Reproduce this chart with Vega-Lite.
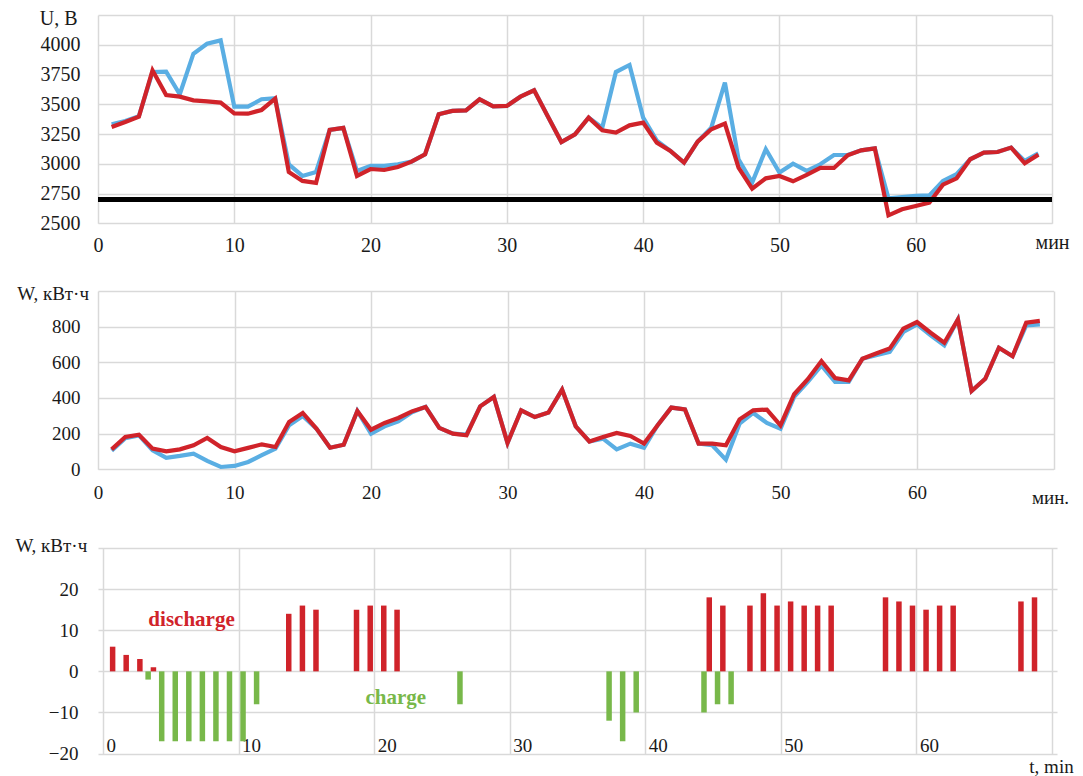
{
  "$schema": "https://vega.github.io/schema/vega-lite/v6.json",
  "background": "white",
  "padding": {"left": 14, "top": 5, "right": 5, "bottom": 25},
  "bounds": "flush",
  "spacing": 0,
  "datasets": {
    "lines": [
      {"t":1,"Ub":3332,"Ur":3309,"Wb":105,"Wr":112},
      {"t":2,"Ub":3360,"Ur":3351,"Wb":175,"Wr":181},
      {"t":3,"Ub":3400,"Ur":3396,"Wb":190,"Wr":194},
      {"t":4,"Ub":3771,"Ur":3785,"Wb":107,"Wr":116},
      {"t":5,"Ub":3774,"Ur":3578,"Wb":64,"Wr":101},
      {"t":6,"Ub":3584,"Ur":3564,"Wb":75,"Wr":112},
      {"t":7,"Ub":3925,"Ur":3533,"Wb":88,"Wr":135},
      {"t":8,"Ub":4009,"Ur":3525,"Wb":47,"Wr":176},
      {"t":9,"Ub":4037,"Ur":3514,"Wb":13,"Wr":125},
      {"t":10,"Ub":3480,"Ur":3424,"Wb":19,"Wr":101},
      {"t":11,"Ub":3480,"Ur":3421,"Wb":41,"Wr":120},
      {"t":12,"Ub":3542,"Ur":3452,"Wb":79,"Wr":140},
      {"t":13,"Ub":3550,"Ur":3547,"Wb":116,"Wr":125},
      {"t":14,"Ub":2996,"Ur":2931,"Wb":247,"Wr":265},
      {"t":15,"Ub":2898,"Ur":2856,"Wb":299,"Wr":316},
      {"t":16,"Ub":2931,"Ur":2839,"Wb":228,"Wr":228},
      {"t":17,"Ub":3284,"Ur":3284,"Wb":121,"Wr":121},
      {"t":18,"Ub":3301,"Ur":3301,"Wb":138,"Wr":138},
      {"t":19,"Ub":2940,"Ur":2898,"Wb":327,"Wr":327},
      {"t":20,"Ub":2982,"Ur":2956,"Wb":200,"Wr":222},
      {"t":21,"Ub":2982,"Ur":2948,"Wb":241,"Wr":260},
      {"t":22,"Ub":2996,"Ur":2973,"Wb":269,"Wr":288},
      {"t":23,"Ub":3018,"Ur":3018,"Wb":320,"Wr":325},
      {"t":24,"Ub":3080,"Ur":3080,"Wb":350,"Wr":350},
      {"t":25,"Ub":3416,"Ur":3416,"Wb":232,"Wr":232},
      {"t":26,"Ub":3444,"Ur":3444,"Wb":200,"Wr":200},
      {"t":27,"Ub":3449,"Ur":3449,"Wb":195,"Wr":191},
      {"t":28,"Ub":3542,"Ur":3542,"Wb":353,"Wr":353},
      {"t":29,"Ub":3483,"Ur":3483,"Wb":406,"Wr":406},
      {"t":30,"Ub":3486,"Ur":3486,"Wb":148,"Wr":148},
      {"t":31,"Ub":3564,"Ur":3564,"Wb":331,"Wr":331},
      {"t":32,"Ub":3617,"Ur":3617,"Wb":293,"Wr":293},
      {"t":33,"Ub":3400,"Ur":3400,"Wb":318,"Wr":318},
      {"t":34,"Ub":3183,"Ur":3183,"Wb":447,"Wr":447},
      {"t":35,"Ub":3248,"Ur":3248,"Wb":241,"Wr":241},
      {"t":36,"Ub":3388,"Ur":3388,"Wb":156,"Wr":156},
      {"t":37,"Ub":3304,"Ur":3281,"Wb":172,"Wr":181},
      {"t":38,"Ub":3771,"Ur":3262,"Wb":112,"Wr":204},
      {"t":39,"Ub":3830,"Ur":3323,"Wb":144,"Wr":187},
      {"t":40,"Ub":3388,"Ur":3346,"Wb":121,"Wr":144},
      {"t":41,"Ub":3195,"Ur":3178,"Wb":247,"Wr":247},
      {"t":42,"Ub":3108,"Ur":3108,"Wb":346,"Wr":346},
      {"t":43,"Ub":3010,"Ur":3010,"Wb":336,"Wr":336},
      {"t":44,"Ub":3186,"Ur":3186,"Wb":144,"Wr":144},
      {"t":45,"Ub":3304,"Ur":3290,"Wb":135,"Wr":144},
      {"t":46,"Ub":3682,"Ur":3337,"Wb":54,"Wr":135},
      {"t":47,"Ub":3038,"Ur":2968,"Wb":256,"Wr":280},
      {"t":48,"Ub":2842,"Ur":2791,"Wb":316,"Wr":331},
      {"t":49,"Ub":3122,"Ur":2878,"Wb":260,"Wr":335},
      {"t":50,"Ub":2926,"Ur":2898,"Wb":228,"Wr":247},
      {"t":51,"Ub":3001,"Ur":2853,"Wb":406,"Wr":421},
      {"t":52,"Ub":2940,"Ur":2906,"Wb":490,"Wr":505},
      {"t":53,"Ub":2996,"Ur":2965,"Wb":583,"Wr":607},
      {"t":54,"Ub":3074,"Ur":2965,"Wb":490,"Wr":512},
      {"t":55,"Ub":3074,"Ur":3071,"Wb":490,"Wr":499},
      {"t":56,"Ub":3113,"Ur":3113,"Wb":620,"Wr":620},
      {"t":57,"Ub":3130,"Ur":3130,"Wb":640,"Wr":649},
      {"t":58,"Ub":2710,"Ur":2567,"Wb":658,"Wr":677},
      {"t":59,"Ub":2721,"Ur":2618,"Wb":770,"Wr":789},
      {"t":60,"Ub":2730,"Ur":2646,"Wb":813,"Wr":826},
      {"t":61,"Ub":2735,"Ur":2674,"Wb":751,"Wr":766},
      {"t":62,"Ub":2856,"Ur":2825,"Wb":695,"Wr":710},
      {"t":63,"Ub":2912,"Ur":2878,"Wb":841,"Wr":841},
      {"t":64,"Ub":3038,"Ur":3038,"Wb":439,"Wr":439},
      {"t":65,"Ub":3094,"Ur":3094,"Wb":508,"Wr":508},
      {"t":66,"Ub":3099,"Ur":3099,"Wb":682,"Wr":682},
      {"t":67,"Ub":3136,"Ur":3136,"Wb":634,"Wr":634},
      {"t":68,"Ub":3024,"Ur":3004,"Wb":807,"Wr":822},
      {"t":69,"Ub":3088,"Ur":3077,"Wb":813,"Wr":832}
    ],
    "bars": [
      {"t":0.71,"W":6,"mode":"discharge"},
      {"t":1.71,"W":4,"mode":"discharge"},
      {"t":2.72,"W":3,"mode":"discharge"},
      {"t":3.72,"W":1,"mode":"discharge"},
      {"t":3.33,"W":-2,"mode":"charge"},
      {"t":4.33,"W":-17,"mode":"charge"},
      {"t":5.33,"W":-17,"mode":"charge"},
      {"t":6.33,"W":-17,"mode":"charge"},
      {"t":7.33,"W":-17,"mode":"charge"},
      {"t":8.33,"W":-17,"mode":"charge"},
      {"t":9.33,"W":-17,"mode":"charge"},
      {"t":10.33,"W":-17,"mode":"charge"},
      {"t":11.33,"W":-8,"mode":"charge"},
      {"t":13.7,"W":14,"mode":"discharge"},
      {"t":14.71,"W":16,"mode":"discharge"},
      {"t":15.71,"W":15,"mode":"discharge"},
      {"t":18.7,"W":15,"mode":"discharge"},
      {"t":19.71,"W":16,"mode":"discharge"},
      {"t":20.71,"W":16,"mode":"discharge"},
      {"t":21.69,"W":15,"mode":"discharge"},
      {"t":26.33,"W":-8,"mode":"charge"},
      {"t":37.33,"W":-12,"mode":"charge"},
      {"t":38.33,"W":-17,"mode":"charge"},
      {"t":39.33,"W":-10,"mode":"charge"},
      {"t":44.33,"W":-10,"mode":"charge"},
      {"t":45.33,"W":-8,"mode":"charge"},
      {"t":46.33,"W":-8,"mode":"charge"},
      {"t":44.72,"W":18,"mode":"discharge"},
      {"t":45.72,"W":16,"mode":"discharge"},
      {"t":47.72,"W":16,"mode":"discharge"},
      {"t":48.71,"W":19,"mode":"discharge"},
      {"t":49.72,"W":16,"mode":"discharge"},
      {"t":50.72,"W":17,"mode":"discharge"},
      {"t":51.72,"W":16,"mode":"discharge"},
      {"t":52.71,"W":16,"mode":"discharge"},
      {"t":53.71,"W":16,"mode":"discharge"},
      {"t":57.72,"W":18,"mode":"discharge"},
      {"t":58.71,"W":17,"mode":"discharge"},
      {"t":59.71,"W":16,"mode":"discharge"},
      {"t":60.71,"W":15,"mode":"discharge"},
      {"t":61.71,"W":16,"mode":"discharge"},
      {"t":62.71,"W":16,"mode":"discharge"},
      {"t":67.71,"W":17,"mode":"discharge"},
      {"t":68.71,"W":18,"mode":"discharge"}
    ],
    "notes": [
      {"t":6.53,"W":12.6,"mode":"discharge","label":"discharge"},
      {"t":21.6,"W":-6.6,"mode":"charge","label":"charge"}
    ]
  },
  "vconcat": [
    {
      "width": 954,
      "height": 208.3,
      "data": {"name": "lines"},
      "encoding": {
        "x": {"field": "t", "type": "quantitative",
          "scale": {"domain": [0, 70], "nice": false},
          "axis": {"values": [0,10,20,30,40,50,60,70], "labelExpr": "datum.value == 70 ? '' : datum.label",
            "labelFontSize": 20, "labelPadding": 12, "labelOverlap": false, "title": "мин", "titleFontSize": 20,
            "titleX": 954, "titleY": 19, "titleAlign": "center", "titleBaseline": "middle"}}
      },
      "layer": [
        {
          "mark": {"type": "line", "color": "#5aaee3", "strokeWidth": 4.2},
          "encoding": {
            "y": {"field": "Ub", "type": "quantitative",
              "scale": {"domain": [2500, 4250], "nice": false, "zero": false},
              "axis": {"values": [2500,2750,3000,3250,3500,3750,4000,4250], "format": "d",
                "labelExpr": "datum.value == 4250 ? '' : datum.label", "labelOverlap": false,
                "labelFontSize": 20, "labelPadding": 18, "title": "U, В", "titleFontSize": 20,
                "titleAngle": 0, "titleAlign": "right", "titleBaseline": "middle", "titleX": -21, "titleY": 3}}
          }
        },
        {
          "mark": {"type": "line", "color": "#d0232a", "strokeWidth": 4.2},
          "encoding": {"y": {"field": "Ur", "type": "quantitative",
              "scale": {"domain": [2500, 4250], "nice": false, "zero": false},
              "axis": {"values": [2500,2750,3000,3250,3500,3750,4000,4250], "format": "d",
                "labelExpr": "datum.value == 4250 ? '' : datum.label", "labelOverlap": false,
                "labelFontSize": 20, "labelPadding": 18, "title": "U, В", "titleFontSize": 20,
                "titleAngle": 0, "titleAlign": "right", "titleBaseline": "middle", "titleX": -21, "titleY": 3}}}
        },
        {
          "mark": {"type": "rule", "color": "black", "strokeWidth": 4.5},
          "encoding": {"x": null, "y": {"datum": 2700,
              "axis": {"values": [2500,2750,3000,3250,3500,3750,4000,4250], "format": "d",
                "labelExpr": "datum.value == 4250 ? '' : datum.label", "labelOverlap": false,
                "labelFontSize": 20, "labelPadding": 18, "title": "U, В", "titleFontSize": 20,
                "titleAngle": 0, "titleAlign": "right", "titleBaseline": "middle", "titleX": -21, "titleY": 3}}}
        }
      ]
    },
    {
      "width": 954,
      "height": 66.7,
      "data": {"values": []},
      "mark": {"type": "point", "opacity": 0},
      "encoding": {}
    },
    {
      "width": 955.5,
      "height": 178.3,
      "data": {"name": "lines"},
      "encoding": {
        "x": {"field": "t", "type": "quantitative",
          "scale": {"domain": [0, 70], "nice": false},
          "axis": {"values": [0,10,20,30,40,50,60,70], "labelExpr": "datum.value == 70 ? '' : datum.label",
            "labelFontSize": 19, "labelPadding": 14, "labelOverlap": false, "title": "мин.", "titleFontSize": 19,
            "titleX": 952, "titleY": 28, "titleAlign": "center", "titleBaseline": "middle"}}
      },
      "layer": [
        {
          "mark": {"type": "line", "color": "#5aaee3", "strokeWidth": 4.2},
          "encoding": {
            "y": {"field": "Wb", "type": "quantitative",
              "scale": {"domain": [0, 1000], "nice": false},
              "axis": {"values": [0,200,400,600,800,1000], "format": "d",
                "labelExpr": "datum.value == 1000 ? '' : datum.label", "labelOverlap": false,
                "labelFontSize": 19, "labelPadding": 18, "title": "W, кВт·ч", "titleFontSize": 19,
                "titleAngle": 0, "titleAlign": "right", "titleBaseline": "middle", "titleX": -9.5, "titleY": 2}}
          }
        },
        {
          "mark": {"type": "line", "color": "#d0232a", "strokeWidth": 4.2},
          "encoding": {"y": {"field": "Wr", "type": "quantitative",
              "scale": {"domain": [0, 1000], "nice": false},
              "axis": {"values": [0,200,400,600,800,1000], "format": "d",
                "labelExpr": "datum.value == 1000 ? '' : datum.label", "labelOverlap": false,
                "labelFontSize": 19, "labelPadding": 18, "title": "W, кВт·ч", "titleFontSize": 19,
                "titleAngle": 0, "titleAlign": "right", "titleBaseline": "middle", "titleX": -9.5, "titleY": 2}}}
        }
      ]
    },
    {
      "width": 954,
      "height": 77.7,
      "data": {"values": []},
      "mark": {"type": "point", "opacity": 0},
      "encoding": {}
    },
    {
      "width": 959,
      "height": 205.6,
      "encoding": {
        "x": {"field": "t", "type": "quantitative",
          "scale": {"domain": [0, 70], "nice": false},
          "axis": {"values": [0,10,20,30,40,50,60,70], "labelExpr": "datum.value == 70 ? '' : datum.label",
            "labelFontSize": 19, "labelPadding": -2, "labelAlign": "left", "labelBaseline": "alphabetic", "labelOffset": 3, "labelOverlap": false,
            "title": "t, min", "titleFontSize": 19,
            "titleX": 953, "titleY": 13, "titleAlign": "center", "titleBaseline": "middle"}},
        "y": {"field": "W", "type": "quantitative",
          "scale": {"domain": [-20, 30], "nice": false},
          "axis": {"values": [-20,-10,0,10,20,30], "format": "d",
            "labelExpr": "datum.value == 30 ? '' : datum.label", "labelOverlap": false,
            "labelFontSize": 19, "labelPadding": 20, "title": "W, кВт·ч", "titleFontSize": 19,
            "titleAngle": 0, "titleAlign": "right", "titleBaseline": "middle", "titleX": -11.3, "titleY": -3}},
        "color": {"field": "mode", "type": "nominal",
          "scale": {"domain": ["discharge", "charge"], "range": ["#d0232a", "#78b84a"]},
          "legend": null}
      },
      "layer": [
        {
          "data": {"name": "bars"},
          "mark": {"type": "bar", "width": 5.5},
          "encoding": {"y": {"field": "W", "type": "quantitative", "stack": null}}
        },
        {
          "data": {"name": "notes"},
          "mark": {"type": "text", "font": "Liberation Serif", "fontWeight": "bold", "fontSize": 21, "align": "center", "baseline": "middle"},
          "encoding": {"text": {"field": "label"}}
        }
      ]
    }
  ],
  "config": {
    "view": {"stroke": null},
    "axis": {
      "grid": true,
      "gridColor": "#d9d9d9",
      "gridWidth": 1.5,
      "domain": false,
      "ticks": false,
      "labelFlush": false,
      "labelOverlap": false,
      "labelFont": "Liberation Serif",
      "labelColor": "#1a1a1a",
      "titleFont": "Liberation Serif",
      "titleFontWeight": "normal",
      "titleColor": "#1a1a1a"
    }
  }
}
